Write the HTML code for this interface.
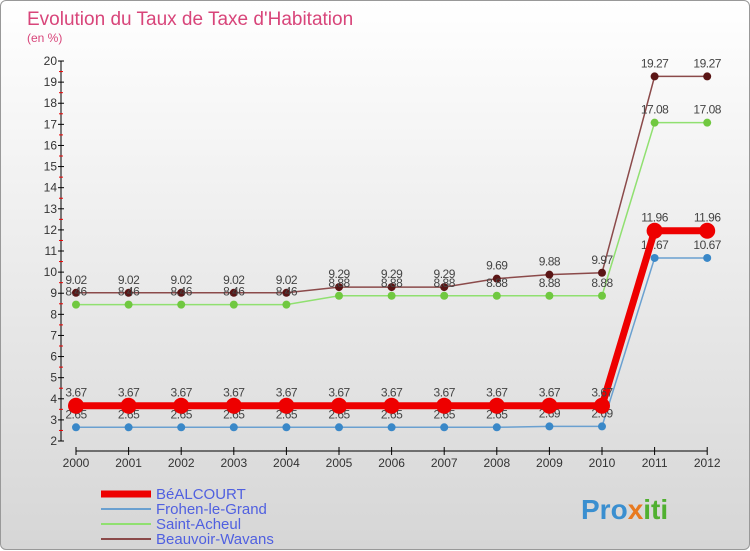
<!DOCTYPE html>
<html><head><meta charset="utf-8"><style>
body{margin:0;width:750px;height:550px;overflow:hidden;font-family:"Liberation Sans",sans-serif}
#wrap{position:absolute;left:0;top:0;width:748px;height:548px;border:1px solid #999;border-radius:6px;background:linear-gradient(#ffffff,#d6d6d6)}
</style></head><body>
<div id="wrap">
<svg id="chart" width="750" height="550" style="position:absolute;left:0;top:0">
<text x="26" y="24" font-size="19" fill="#d8457a" font-weight="300">Evolution du Taux de Taxe d'Habitation</text>
<text x="26" y="41" font-size="12" fill="#d8457a">(en %)</text>
<g id="axes"></g><g id="series"></g><g id="legend"></g>
<text x="580" y="518" font-size="28" font-weight="bold" fill="#3a8fd0">Pro<tspan fill="#e87a20">x</tspan><tspan fill="#50b030">iti</tspan></text>
</svg>
</div>
<script>
const years=[2000,2001,2002,2003,2004,2005,2006,2007,2008,2009,2010,2011,2012];
const bealcourt=[3.67,3.67,3.67,3.67,3.67,3.67,3.67,3.67,3.67,3.67,3.67,11.96,11.96];
const frohen=[2.65,2.65,2.65,2.65,2.65,2.65,2.65,2.65,2.65,2.69,2.69,10.67,10.67];
const saintAcheul=[8.46,8.46,8.46,8.46,8.46,8.88,8.88,8.88,8.88,8.88,8.88,17.08,17.08];
const beauvoir=[9.02,9.02,9.02,9.02,9.02,9.29,9.29,9.29,9.69,9.88,9.97,19.27,19.27];
const yTicks=[2,3,4,5,6,7,8,9,10,11,12,13,14,15,16,17,18,19,20];
const NS="http://www.w3.org/2000/svg";
const X=i=>75+i*52.6, Y=v=>440-(v-2)*21.11;
function mk(p,t,a){const e=document.createElementNS(NS,t);for(const k in a)e.setAttribute(k,a[k]);p.appendChild(e);return e;}
const ax=document.getElementById('axes');
let l=mk(ax,'line',{x1:60,y1:Y(20),x2:60,y2:Y(2),stroke:'#000'});


yTicks.forEach(v=>{
 let t=mk(ax,'line',{x1:57,x2:63,y1:Y(v),y2:Y(v),stroke:'#000'});
 
 
 if(v<20){let m=mk(ax,'line',{x1:58,x2:62,y1:Y(v+0.5),y2:Y(v+0.5),stroke:'#e00'});
 
 }
 let tx=mk(ax,'text',{x:56,y:Y(v)+4,'text-anchor':'end','font-size':12,fill:'#333'});
 tx.textContent=v;
 
 
});
let xa=mk(ax,'line',{x1:X(0),x2:X(12),y1:450,y2:450,stroke:'#000'});


years.forEach((y,i)=>{
 let t=mk(ax,'line',{x1:X(i),x2:X(i),y1:446,y2:454,stroke:'#000'});
 
 
 let tx=mk(ax,'text',{x:X(i),y:466,'text-anchor':'middle','font-size':12,fill:'#333'});
 tx.textContent=y;
 
 
});
const sg=document.getElementById('series');
const defs=[
 {d:beauvoir,c:'#8b4a4a',p:'#5a1515',w:1.5,r:4,n:'beauvoir-wavans'},
 {d:saintAcheul,c:'#90e070',p:'#70c840',w:1.5,r:4,n:'saint-acheul'},
 {d:frohen,c:'#6aa0d0',p:'#3a88c8',w:1.5,r:4,n:'frohen-le-grand'},
 {d:bealcourt,c:'#ee0000',p:'#ee0000',w:7,r:8,n:'bealcourt'}];
defs.forEach(s=>{
 let pl=mk(sg,'polyline',{points:s.d.map((v,i)=>X(i)+','+Y(v)).join(' '),fill:'none',stroke:s.c,'stroke-width':s.w});
 
 
 s.d.forEach((v,i)=>{
  let c=mk(sg,'circle',{cx:X(i),cy:Y(v),r:s.r,fill:s.p});
  
  
  let t=mk(sg,'text',{x:X(i),y:Y(v)-9,'text-anchor':'middle','font-size':12,fill:'#444','letter-spacing':'-0.5'});
  t.textContent=String(v);
  
  
 });
});
const lg=document.getElementById('legend');
[['BéALCOURT','#ee0000',7],['Frohen-le-Grand','#6aa0d0',2],['Saint-Acheul','#90e070',2],['Beauvoir-Wavans','#8b4a4a',2]].forEach((e,i)=>{
 const y=493+i*15;
 let ln=mk(lg,'line',{x1:100,x2:150,y1:y,y2:y,stroke:e[1],'stroke-width':e[2]});
 
 
 let t=mk(lg,'text',{x:155,y:y+5,'font-size':15,fill:'#5060e0'});
 t.textContent=e[0];
 
 
});
</script>
</body></html>
